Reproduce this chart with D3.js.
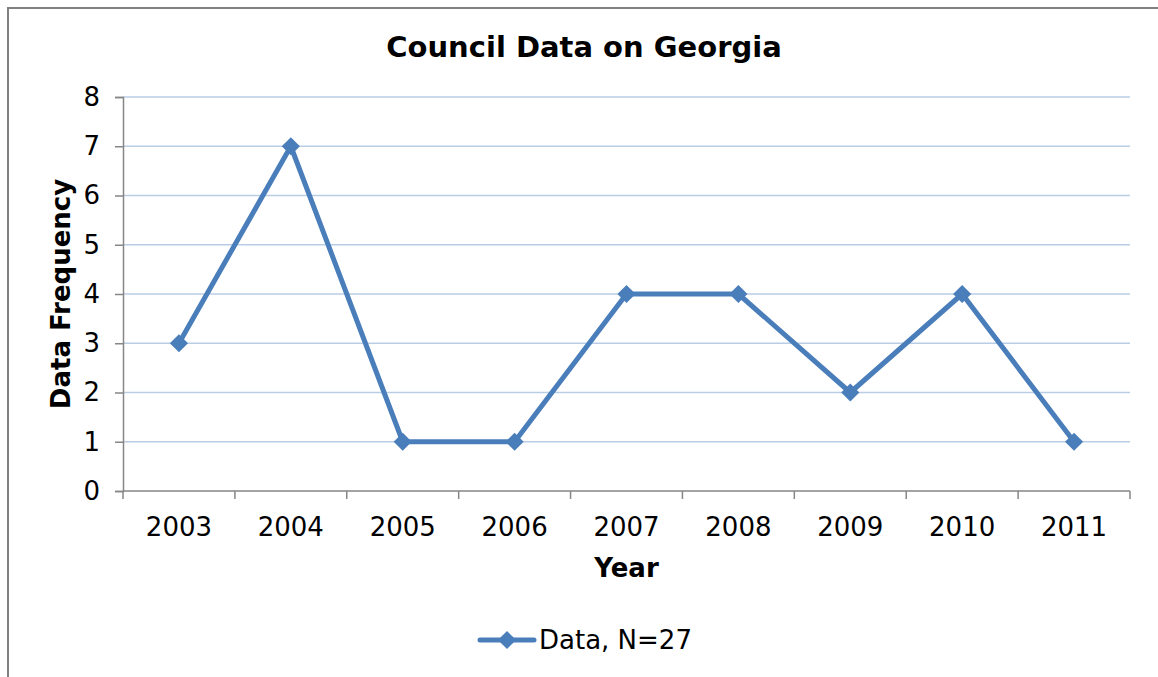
<!DOCTYPE html>
<html>
<head>
<meta charset="utf-8">
<script src="https://cdn.jsdelivr.net/npm/d3@7"></script>
<style>
  html, body { margin: 0; padding: 0; background: #fff; }
  svg { display: block; font-family: "DejaVu Sans", Verdana, sans-serif; }
</style>
</head>
<body>
<svg id="chart" width="1158" height="677"></svg>
<script>
const years = ['2003', '2004', '2005', '2006', '2007', '2008', '2009', '2010', '2011'];
const counts = [3, 7, 1, 1, 4, 4, 2, 4, 1];
const yTicks = [0, 1, 2, 3, 4, 5, 6, 7, 8];
const seriesName = 'Data, N=27';

const svg = d3.select('#chart');
const blue = '#4a7ebb';
const axisColor = '#868686';
const gridColor = '#b9cde5';

// chart frame (only top and left edges show in the picture)
svg.append('path')
  .attr('d', 'M8,677 V8 H1158')
  .attr('fill', 'none')
  .attr('stroke', '#808080')
  .attr('stroke-width', 2);

const margin = { top: 97, left: 123, right: 28, bottom: 186 };
const width = 1158 - margin.left - margin.right;
const height = 677 - margin.top - margin.bottom;
const g = svg.append('g').attr('transform', `translate(${margin.left},${margin.top})`);

const x = d3.scaleBand().domain(years).range([0, width]);
const y = d3.scaleLinear().domain([0, 8]).range([height, 0]);

// gridlines
g.append('g')
  .selectAll('line')
  .data(yTicks.filter(t => t > 0))
  .join('line')
  .attr('x1', 0)
  .attr('x2', width)
  .attr('y1', d => y(d))
  .attr('y2', d => y(d))
  .attr('stroke', gridColor)
  .attr('stroke-width', 1.5);

// y axis
const yAxis = g.append('g')
  .call(d3.axisLeft(y).tickValues(yTicks).tickSize(8).tickPadding(15).tickFormat(d3.format('d')));
yAxis.select('.domain').attr('stroke', axisColor).attr('stroke-width', 1.5);
yAxis.selectAll('.tick line').attr('stroke', axisColor).attr('stroke-width', 1.5);
yAxis.selectAll('.tick text')
  .attr('font-size', 26)
  .attr('fill', '#000')
  .attr('font-family', '"DejaVu Sans", Verdana, sans-serif');

// x axis with ticks on category boundaries
const xAxisG = g.append('g').attr('transform', `translate(0,${height})`);
xAxisG.append('line')
  .attr('x1', 0).attr('x2', width)
  .attr('stroke', axisColor).attr('stroke-width', 1.5);
xAxisG.selectAll('.bound')
  .data(d3.range(years.length + 1))
  .join('line')
  .attr('class', 'bound')
  .attr('x1', i => i * x.step())
  .attr('x2', i => i * x.step())
  .attr('y1', 0)
  .attr('y2', 8)
  .attr('stroke', axisColor)
  .attr('stroke-width', 1.5);
xAxisG.selectAll('.lbl')
  .data(years)
  .join('text')
  .attr('class', 'lbl')
  .attr('x', d => x(d) + x.bandwidth() / 2)
  .attr('y', 45)
  .attr('text-anchor', 'middle')
  .attr('font-size', 26)
  .text(d => d);

// series line
const pts = years.map((yr, i) => ({ yr, v: counts[i] }));
const line = d3.line().x(p => x(p.yr) + x.bandwidth() / 2).y(p => y(p.v));
g.append('path')
  .datum(pts)
  .attr('d', line)
  .attr('fill', 'none')
  .attr('stroke', blue)
  .attr('stroke-width', 5)
  .attr('stroke-linejoin', 'round')
  .attr('stroke-linecap', 'round');

const diamond = d3.symbol().type(d3.symbolDiamond2).size(210);
g.selectAll('.mk')
  .data(pts)
  .join('path')
  .attr('class', 'mk')
  .attr('transform', p => `translate(${x(p.yr) + x.bandwidth() / 2},${y(p.v)})`)
  .attr('d', diamond)
  .attr('fill', blue);

// titles
svg.append('text')
  .attr('x', 584)
  .attr('y', 57)
  .attr('text-anchor', 'middle')
  .attr('font-size', 29)
  .attr('font-weight', 'bold')
  .text('Council Data on Georgia');

svg.append('text')
  .attr('x', margin.left + width / 2)
  .attr('y', 577)
  .attr('text-anchor', 'middle')
  .attr('font-size', 26)
  .attr('font-weight', 'bold')
  .text('Year');

svg.append('text')
  .attr('transform', `translate(70,${margin.top + height / 2}) rotate(-90)`)
  .attr('text-anchor', 'middle')
  .attr('font-size', 26)
  .attr('font-weight', 'bold')
  .text('Data Frequency');

// legend
const leg = svg.append('g').attr('transform', 'translate(480,640)');
leg.append('line')
  .attr('x1', 0).attr('x2', 54)
  .attr('stroke', blue).attr('stroke-width', 5).attr('stroke-linecap', 'round');
leg.append('path')
  .attr('transform', 'translate(27,0)')
  .attr('d', diamond)
  .attr('fill', blue);
leg.append('text')
  .attr('x', 59)
  .attr('y', 0)
  .attr('dy', '0.35em')
  .attr('font-size', 26)
  .text(seriesName);
</script>
</body>
</html>
